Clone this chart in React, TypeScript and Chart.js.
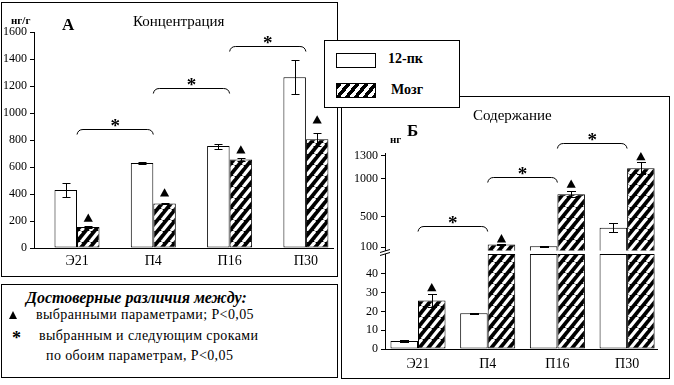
import React, { useEffect, useRef } from 'react';
import { Chart, registerables } from 'chart.js';

Chart.register(...registerables);

const SERIF = '"Liberation Serif", "Times New Roman", serif';

// ---------------- data ----------------
const CATEGORIES = ['Э21', 'П4', 'П16', 'П30'];
const SERIES_NAMES = ['12-пк', 'Мозг'];

// Panel А — concentration, ng/g
const CONC_12PK = [430, 630, 755, 1265];
const CONC_12PK_ERR = [55, 5, 18, 125];
const CONC_BRAIN = [155, 330, 655, 805];
const CONC_BRAIN_ERR = [6, 6, 8, 50];
const CONC_TRIANGLES = [222, 410, 728, 950];
const CONC_BRACKETS = [880, 1185, 1495];
const CONC_TICKS = [0, 200, 400, 600, 800, 1000, 1200, 1400, 1600];

// Panel Б — content, ng (broken axis)
const CONT_12PK = [4.2, 19, 113, 355];
const CONT_12PK_ERR = [0.4, 0.3, 4, 60];
const CONT_BRAIN = [25.8, 135, 796, 1135];
const CONT_BRAIN_ERR = [3.6, 12, 38, 78];
const CONT_TRIANGLES = [32.7, 213, 930, 1290];
const CONT_BRACKETS = [383, 1026, 1469];
const CONT_TICKS_LOW = [0, 10, 20, 30, 40];
const CONT_TICKS_HIGH = [100, 500, 1000, 1300];
const CONT_LOW_MAX = 50.5;
const CONT_HIGH_MIN = 57;
const CONT_HIGH_MAX = 1330;

// ---------------- helpers ----------------
function makeHatch() {
  const W = 9;
  const H = 11;
  const c = document.createElement('canvas');
  c.width = W;
  c.height = H;
  const g = c.getContext('2d')!;
  g.fillStyle = '#000';
  g.fillRect(0, 0, W, H);
  g.strokeStyle = '#fff';
  g.lineWidth = 3.3;
  for (const dx of [-W, 0, W]) {
    g.beginPath();
    g.moveTo(dx, H);
    g.lineTo(dx + W, 0);
    g.stroke();
  }
  return g.createPattern(c, 'repeat');
}

function overlayPlugin(o: any) {
  return {
    id: 'overlay',
    afterDraw(chart: any) {
      const ctx = chart.ctx;
      const xs = chart.scales.x;
      const ys = chart.scales.y;
      const ok = (v: any) => v != null && v >= ys.min && v <= ys.max;
      ctx.save();
      ctx.strokeStyle = '#000';
      ctx.fillStyle = '#000';
      ctx.lineWidth = 1;
      [0, 1].forEach((di) => {
        const vals = o.values[di];
        const errs = o.errors[di];
        const meta = chart.getDatasetMeta(di);
        vals.forEach((v: number, i: number) => {
          if (!ok(v) || !errs[i]) return;
          const bar = meta.data[i];
          if (!bar) return;
          const x = Math.round(bar.x) + 0.5;
          const yt = Math.round(ys.getPixelForValue(v + errs[i])) + 0.5;
          const yb = Math.round(ys.getPixelForValue(v - errs[i])) + 0.5;
          ctx.beginPath();
          ctx.moveTo(x, yt);
          ctx.lineTo(x, yb);
          ctx.moveTo(x - o.cap, yt);
          ctx.lineTo(x + o.cap, yt);
          ctx.moveTo(x - o.cap, yb);
          ctx.lineTo(x + o.cap, yb);
          ctx.stroke();
        });
      });
      const hm = chart.getDatasetMeta(1);
      o.marks.forEach((m: number, i: number) => {
        if (!ok(m)) return;
        const bar = hm.data[i];
        if (!bar) return;
        const x = bar.x;
        const y = ys.getPixelForValue(m);
        ctx.beginPath();
        ctx.moveTo(x, y - 4.5);
        ctx.lineTo(x + 4.6, y + 3.8);
        ctx.lineTo(x - 4.6, y + 3.8);
        ctx.closePath();
        ctx.fill();
      });
      (o.brackets || []).forEach((lvl: number, i: number) => {
        const x1 = xs.getPixelForValue(i) + 1;
        const x2 = xs.getPixelForValue(i + 1) - 1;
        const y = Math.round(ys.getPixelForValue(lvl)) + 0.5;
        const r = 4;
        ctx.beginPath();
        ctx.moveTo(x1 - 1, y + r + 1);
        ctx.quadraticCurveTo(x1, y, x1 + r + 1, y);
        ctx.lineTo(x2 - r - 1, y);
        ctx.quadraticCurveTo(x2, y, x2 + 1, y + r + 1);
        ctx.stroke();
        ctx.font = `bold 19px ${SERIF}`;
        ctx.textAlign = 'center';
        ctx.textBaseline = 'alphabetic';
        ctx.fillText('*', (x1 + x2) / 2, y + 2.5);
      });
      if (o.breakMark) {
        const L = chart.chartArea.left;
        const T = chart.chartArea.top;
        ctx.beginPath();
        ctx.moveTo(L - 5, T - 1.5);
        ctx.lineTo(L + 5, T - 4.5);
        ctx.moveTo(L - 5, T + 1.5);
        ctx.lineTo(L + 5, T - 1.5);
        ctx.stroke();
      }
      ctx.restore();
    },
  };
}

function buildConfig(p: any, hatch: any) {
  const toXY = (arr: any[]) => arr.map((v, i) => ({ x: i, y: v }));
  const common = {
    borderColor: '#000',
    borderWidth: 1,
    borderSkipped: false,
    categoryPercentage: p.catPct,
    barPercentage: 1,
  };
  return {
    type: 'bar',
    data: {
      datasets: [
        { label: SERIES_NAMES[0], data: toXY(p.white), backgroundColor: '#fff', ...common },
        { label: SERIES_NAMES[1], data: toXY(p.brain), backgroundColor: hatch, ...common },
      ],
    },
    options: {
      animation: false,
      responsive: false,
      maintainAspectRatio: false,
      devicePixelRatio: 1,
      events: [],
      layout: { padding: p.padding, autoPadding: false },
      plugins: { legend: { display: false }, tooltip: { enabled: false }, title: { display: false } },
      scales: {
        x: {
          type: 'linear',
          bounds: 'data',
          offset: false,
          display: p.showX,
          min: p.xMin,
          max: p.xMax,
          afterBuildTicks: (s: any) => {
            s.ticks = CATEGORIES.map((_, i) => ({ value: i }));
          },
          afterFit: (s: any) => {
            s.height = p.xHeight;
          },
          ticks: {
            callback: (v: number) => CATEGORIES[v],
            color: '#000',
            font: { family: SERIF, size: 14 },
            padding: p.xPad,
            maxRotation: 0,
            autoSkip: false,
          },
          grid: { display: false, drawTicks: false, offset: false },
          border: { display: true, color: '#000', width: 1 },
        },
        y: {
          type: 'linear',
          bounds: 'data',
          offset: false,
          beginAtZero: false,
          grace: 0,
          min: p.yMin,
          max: p.yMax,
          afterBuildTicks: (s: any) => {
            s.ticks = p.yTicks.map((v: number) => ({ value: v }));
          },
          afterFit: (s: any) => {
            s.width = p.yWidth;
          },
          ticks: {
            callback: (v: number) => String(v),
            color: '#000',
            font: { family: SERIF, size: 12 },
            padding: 3,
            autoSkip: false,
          },
          grid: { display: true, drawOnChartArea: false, drawTicks: true, tickLength: 4, color: '#000', lineWidth: 1 },
          border: { display: true, color: '#000', width: 1 },
        },
      },
    },
    plugins: [
      overlayPlugin({
        values: [p.rawWhite, p.rawBrain],
        errors: [p.whiteErr, p.brainErr],
        marks: p.marks,
        brackets: p.brackets,
        cap: p.cap,
        breakMark: p.breakMark,
      }),
    ],
  };
}

function box(left: number, top: number, width: number, height: number, extra: any = {}) {
  return {
    position: 'absolute' as const,
    left,
    top,
    width,
    height,
    border: '1px solid #000',
    boxSizing: 'border-box' as const,
    ...extra,
  };
}

function Label(props: { x: number; cy: number; size: number; bold?: boolean; italic?: boolean; children: any; ls?: number }) {
  const { x, cy, size, bold, italic, children, ls } = props;
  return (
    <div
      style={{
        position: 'absolute',
        left: x,
        top: cy - size * 0.65,
        fontFamily: SERIF,
        fontSize: size,
        fontWeight: bold ? 'bold' : 'normal',
        fontStyle: italic ? 'italic' : 'normal',
        lineHeight: `${size * 1.2}px`,
        whiteSpace: 'nowrap',
        color: '#000',
        letterSpacing: ls ? `${ls}px` : undefined,
      }}
    >
      {children}
    </div>
  );
}

export default function App() {
  const aRef = useRef<HTMLCanvasElement>(null);
  const hiRef = useRef<HTMLCanvasElement>(null);
  const loRef = useRef<HTMLCanvasElement>(null);

  useEffect(() => {
    const hatch = makeHatch();
    const charts: Chart[] = [];
    charts.push(
      new Chart(
        aRef.current!,
        buildConfig(
          {
            white: CONC_12PK,
            brain: CONC_BRAIN,
            rawWhite: CONC_12PK,
            rawBrain: CONC_BRAIN,
            whiteErr: CONC_12PK_ERR,
            brainErr: CONC_BRAIN_ERR,
            marks: CONC_TRIANGLES,
            brackets: CONC_BRACKETS,
            yMin: 0,
            yMax: 1600,
            yTicks: CONC_TICKS,
            xMin: -0.5636,
            xMax: 3.355,
            catPct: 0.59,
            yWidth: 34,
            xHeight: 30,
            xPad: 5,
            showX: true,
            padding: { left: 0, top: 32, right: 5, bottom: 0 },
            cap: 4,
          },
          hatch
        ) as any
      )
    );
    charts.push(
      new Chart(
        hiRef.current!,
        buildConfig(
          {
            white: CONT_12PK.map((v) => (v >= CONT_HIGH_MIN ? v : null)),
            brain: CONT_BRAIN.map((v) => (v >= CONT_HIGH_MIN ? v : null)),
            rawWhite: CONT_12PK,
            rawBrain: CONT_BRAIN,
            whiteErr: CONT_12PK_ERR,
            brainErr: CONT_BRAIN_ERR,
            marks: CONT_TRIANGLES,
            brackets: CONT_BRACKETS,
            yMin: CONT_HIGH_MIN,
            yMax: CONT_HIGH_MAX,
            yTicks: CONT_TICKS_HIGH,
            xMin: -0.4735,
            xMax: 3.429,
            catPct: 0.79,
            yWidth: 44,
            xHeight: 0,
            xPad: 0,
            showX: false,
            padding: { left: 0, top: 56.4, right: 13, bottom: 16.5 },
            cap: 4.5,
          },
          hatch
        ) as any
      )
    );
    charts.push(
      new Chart(
        loRef.current!,
        buildConfig(
          {
            white: CONT_12PK.map((v) => Math.min(v, CONT_LOW_MAX)),
            brain: CONT_BRAIN.map((v) => Math.min(v, CONT_LOW_MAX)),
            rawWhite: CONT_12PK,
            rawBrain: CONT_BRAIN,
            whiteErr: CONT_12PK_ERR,
            brainErr: CONT_BRAIN_ERR,
            marks: CONT_TRIANGLES,
            brackets: null,
            yMin: 0,
            yMax: CONT_LOW_MAX,
            yTicks: CONT_TICKS_LOW,
            xMin: -0.4735,
            xMax: 3.429,
            catPct: 0.79,
            yWidth: 44,
            xHeight: 31,
            xPad: 7,
            showX: true,
            padding: { left: 0, top: 14, right: 13, bottom: 0 },
            cap: 4.5,
            breakMark: true,
          },
          hatch
        ) as any
      )
    );
    return () => charts.forEach((c) => c.destroy());
  }, []);

  return (
    <div style={{ position: 'absolute', left: 0, top: 0, width: 674, height: 385, background: '#fff', overflow: 'hidden' }}>
      <div style={box(1, 2, 337, 275)} />
      <div style={box(341, 96, 329, 283)} />

      <canvas ref={aRef} width={338} height={278} style={{ position: 'absolute', left: 0, top: 0, width: 338, height: 278 }} />
      <canvas ref={hiRef} width={329} height={170} style={{ position: 'absolute', left: 341, top: 97, width: 329, height: 170 }} />
      <canvas ref={loRef} width={329} height={140} style={{ position: 'absolute', left: 341, top: 240, width: 329, height: 140 }} />

      <Label x={11} cy={21} size={11} bold>нг/г</Label>
      <Label x={62} cy={26} size={17} bold>А</Label>
      <Label x={133} cy={22} size={15}>Концентрация</Label>

      <Label x={473} cy={116} size={15}>Содержание</Label>
      <Label x={407} cy={132} size={17} bold>Б</Label>
      <Label x={390} cy={140} size={11} bold>нг</Label>

      <div style={box(324, 40, 136, 68, { background: '#fff', zIndex: 5 })}>
        <div style={{ position: 'absolute', left: 11, top: 12, width: 40, height: 15, border: '1px solid #000', boxSizing: 'border-box', background: '#fff' }} />
        <div
          style={{
            position: 'absolute',
            left: 11,
            top: 42,
            width: 40,
            height: 15,
            border: '1px solid #000',
            boxSizing: 'border-box',
            background: 'repeating-linear-gradient(129deg, #000 0px, #000 3.7px, #fff 3.7px, #fff 7px)',
          }}
        />
        <Label x={63} cy={19} size={14} bold>{SERIES_NAMES[0]}</Label>
        <Label x={66} cy={50} size={14} bold>{SERIES_NAMES[1]}</Label>
      </div>

      <div style={box(1, 284, 337, 94, { background: '#fff' })}>
        <Label x={24} cy={13} size={16} bold italic>Достоверные различия между:</Label>
        <div
          style={{
            position: 'absolute',
            left: 7,
            top: 26,
            width: 0,
            height: 0,
            borderLeft: '4.5px solid transparent',
            borderRight: '4.5px solid transparent',
            borderBottom: '8px solid #000',
          }}
        />
        <Label x={34} cy={31} size={14} ls={0.4}>выбранными параметрами; Р&lt;0,05</Label>
        <Label x={10} cy={55} size={18} bold>*</Label>
        <Label x={37} cy={52} size={14} ls={0.4}>выбранным и следующим сроками</Label>
        <Label x={44} cy={72} size={14} ls={0.4}>по обоим параметрам, Р&lt;0,05</Label>
      </div>
    </div>
  );
}
